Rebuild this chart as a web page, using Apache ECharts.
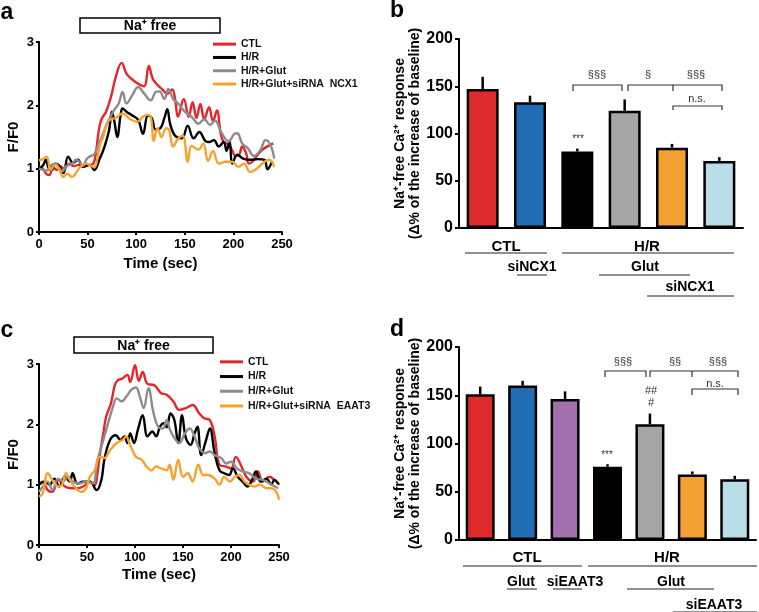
<!DOCTYPE html>
<html>
<head>
<meta charset="utf-8">
<script src="https://cdn.jsdelivr.net/npm/echarts@6/dist/echarts.min.js"></script>
<style>
html, body { margin: 0; padding: 0; background: #fff; }
#chart { width: 759px; height: 612px; }
</style>
</head>
<body>
<div id="chart"></div>
<script>
const lineNamesA = ['CTL', 'H/R', 'H/R+Glut', 'H/R+Glut+siRNA  NCX1']
const lineNamesC = ['CTL', 'H/R', 'H/R+Glut', 'H/R+Glut+siRNA  EAAT3']
const lineColors = ['#e8242b', '#000000', '#8c8c8c', '#f7a22c']

// panel a traces: [time (sec), F/F0]
const ctlA = [[0,1.02],[4,1.0],[8,0.91],[11,0.9],[14,1.03],[18,0.98],[22,1.04],[26,1.0],[31,1.08],[36,1.04],[41,1.06],[46,1.03],[52,1.06],[56,1.08],[59,1.3],[61,1.55],[64,1.77],[69,1.9],[74,2.13],[79,2.45],[85,2.67],[90,2.5],[95,2.42],[102,2.34],[108,2.3],[113,2.62],[117,2.42],[122,2.32],[127,2.25],[132,2.18],[137,2.25],[140,2.1],[143,1.82],[149,2.1],[154,1.82],[158,2.05],[162,1.8],[166,2.02],[170,1.78],[175,1.97],[179,1.75],[183,1.92],[187,1.55],[190,1.42],[195,1.38],[199,1.28],[202,1.2],[206,1.22],[209,1.35],[213,1.25],[216,1.08],[220,1.12],[225,1.22],[230,1.3],[236,1.36],[241,1.4]]
const hrA = [[0,1.0],[4,1.05],[7,1.14],[10,1.0],[13,0.98],[17,1.08],[20,1.06],[25,0.93],[30,1.19],[35,1.09],[40,1.14],[45,1.03],[52,1.06],[57,0.98],[62,1.14],[67,1.33],[72,1.6],[75,1.9],[77.5,1.75],[80.5,1.5],[84,1.85],[86,1.95],[90,1.9],[96,1.84],[102,1.77],[107,1.55],[112,1.84],[116,1.8],[120,1.62],[125,1.64],[129,1.8],[132,1.94],[135,1.7],[140,1.52],[147,1.48],[153,1.68],[159,1.48],[165,1.58],[171,1.44],[175,1.42],[180,1.45],[185,1.35],[190,1.42],[193,1.28],[196,1.44],[199,1.08],[204,1.22],[210,1.16],[217,1.14],[225,1.15],[232,1.14],[235,0.99],[240,1.12]]
const glutA = [[0,1.0],[4,0.98],[8,0.97],[12,1.05],[17,1.08],[21,1.0],[24,0.96],[28,1.04],[31,1.06],[35,1.09],[38,1.14],[42,1.1],[45,1.04],[49,1.15],[52,1.19],[57,1.23],[61,1.38],[64,1.48],[70,1.71],[77,1.92],[82,2.03],[86,2.21],[90,2.03],[96,2.16],[102,2.29],[108,2.19],[115,2.08],[120,2.21],[124,2.22],[129,2.1],[133,2.26],[138,2.1],[143,2.03],[150,1.9],[157,1.82],[164,1.71],[170,1.78],[176,1.69],[181,1.76],[188,1.56],[195,1.43],[201,1.55],[204,1.56],[209,1.4],[215,1.32],[221,1.2],[228,1.3],[233,1.45],[238,1.38],[242,1.16]]
const siA = [[0,1.13],[4,1.15],[8,1.19],[12,0.98],[17,1.06],[21,0.98],[25,0.87],[29,0.92],[34,0.87],[38,0.93],[42,1.02],[48,1.08],[53,1.05],[57,1.02],[60,1.15],[63,1.4],[66,1.5],[70,1.72],[74,1.78],[79,1.8],[86,1.87],[94,1.78],[101,1.74],[107,1.82],[111,1.85],[115,1.82],[118,1.44],[122,1.64],[126,1.5],[131,1.64],[134,1.6],[138,1.35],[143,1.47],[148,1.52],[153,1.11],[157,1.36],[164,1.3],[169,1.4],[174,1.12],[179,1.28],[185,1.08],[192,1.11],[199,1.11],[205,1.03],[211,1.08],[217,0.95],[224,1.0],[232,1.11],[237,1.14],[242,1.03]]

// panel c traces
const ctlC = [[0,1.0],[4,1.05],[9,0.91],[14,0.88],[20,1.08],[27,0.97],[34,0.94],[40,0.94],[46,0.97],[53,1.05],[58,0.99],[61,1.2],[63,1.46],[67,1.85],[70,2.13],[75,2.35],[79,2.65],[82,2.73],[87,2.76],[92,2.82],[95,2.7],[100,2.98],[104,2.72],[108,2.87],[113,2.67],[120,2.65],[127,2.52],[133,2.49],[140,2.38],[146,2.24],[153,2.27],[160,2.32],[167,2.18],[172,2.1],[178,2.07],[183,1.8],[188,1.33],[195,1.3],[200,1.27],[205,1.46],[211,1.3],[216,1.13],[223,1.05],[228,1.22],[233,1.05],[240,1.13],[245,1.08],[249,1.02]]
const hrC = [[0,1.0],[6,1.05],[11,1.0],[16,1.1],[21,0.97],[27,1.13],[32,1.05],[35,1.19],[40,1.02],[46,1.05],[53,1.05],[60,0.91],[65,1.08],[68,1.41],[74,1.74],[80,1.82],[85,1.74],[89,1.8],[92,1.69],[95,1.85],[99,1.69],[103,1.91],[108,2.15],[113,1.8],[118,1.88],[122,1.8],[126,1.96],[130,2.02],[133,1.95],[137,2.18],[141,2.07],[145,1.69],[149,2.15],[153,1.77],[158,1.66],[162,1.85],[165,1.96],[169,1.49],[174,1.74],[178,1.93],[183,1.52],[188,1.24],[193,1.19],[198,1.16],[202,1.27],[207,1.13],[212,1.05],[217,0.97],[222,1.08],[226,1.22],[231,1.05],[237,1.1],[242,1.0],[245,1.08],[250,1.0]]
const glutC = [[0,0.88],[4,0.97],[9,1.05],[14,0.91],[20,1.1],[25,1.05],[30,1.13],[35,1.05],[42,1.02],[49,1.05],[56,1.02],[61,1.41],[67,1.74],[72,2.02],[77,2.29],[81,2.43],[86,2.38],[91,2.46],[96,2.57],[101,2.61],[105,2.46],[109,2.27],[114,2.6],[119,2.21],[124,1.96],[129,1.93],[133,2.07],[136,1.93],[140,1.8],[146,1.69],[152,1.85],[157,1.93],[162,1.8],[167,1.6],[173,1.52],[178,1.55],[183,1.49],[190,1.44],[195,1.35],[200,1.38],[206,1.27],[212,1.22],[219,1.19],[226,1.1],[233,1.08],[240,1.02],[249,0.94]]
const siC = [[0,0.8],[4,0.86],[9,1.19],[15,1.05],[20,0.97],[24,1.0],[28,1.19],[32,1.08],[37,0.97],[44,0.88],[49,0.94],[53,1.13],[58,1.24],[63,1.46],[68,1.44],[74,1.57],[81,1.69],[87,1.74],[91,1.8],[94,1.69],[98,1.55],[101,1.46],[107,1.41],[112,1.3],[117,1.24],[122,1.3],[127,1.27],[133,1.24],[136,1.33],[140,1.08],[145,1.41],[150,1.13],[155,1.19],[160,1.05],[166,1.33],[171,1.16],[176,1.16],[183,1.1],[188,1.0],[193,1.13],[199,1.05],[204,1.13],[209,1.16],[214,1.05],[219,1.0],[225,0.97],[230,1.0],[237,0.94],[242,0.94],[247,0.88],[250,0.75]]

// panel b bars
const barGroupsB = ['CTL', 'siNCX1', 'H/R', 'H/R+Glut', 'H/R+Glut+siNCX1', 'H/R+siNCX1']
const barValuesB = [147, 133, 81, 124, 85, 71]
const barErrB = [13, 7, 3, 12, 4, 4]
const barColorsB = ['#de2a2b', '#206db3', '#000000', '#a6a6a6', '#f4a032', '#b9dee7']

// panel d bars
const barGroupsD = ['CTL', 'Glut', 'siEAAT3', 'H/R', 'H/R+Glut', 'H/R+Glut+siEAAT3', 'H/R+siEAAT3']
const barValuesD = [151, 160, 146, 76, 120, 68, 63]
const barErrD = [8, 5, 8, 2.5, 11, 3, 3.5]
const barColorsD = ['#de2a2b', '#206db3', '#a170ad', '#000000', '#a6a6a6', '#f4a032', '#b9dee7']

const FONT = '"Liberation Sans", Arial, sans-serif'
const barAxisName = 'Na⁺-free Ca²⁺ response\n(Δ% of the increase of baseline)'

const chart = echarts.init(document.getElementById('chart'))

const timeAxis = (gi, gap) => ({
    type: 'value', gridIndex: gi, min: 0, max: 250, interval: 50,
    name: 'Time (sec)', nameLocation: 'middle', nameGap: gap,
    nameTextStyle: { fontFamily: FONT, fontWeight: 'bold', fontSize: 15, color: '#000' },
    axisLine: { show: true, lineStyle: { color: '#000', width: 2 } },
    axisTick: { show: true, length: 3, lineStyle: { color: '#000', width: 2 } },
    axisLabel: { margin: 6, fontFamily: FONT, fontWeight: 'bold', fontSize: 13, color: '#000' },
    splitLine: { show: false }
})
const ratioAxis = gi => ({
    type: 'value', gridIndex: gi, min: 0, max: 3, interval: 1,
    name: 'F/F0', nameLocation: 'middle', nameGap: 18,
    nameTextStyle: { fontFamily: FONT, fontWeight: 'bold', fontSize: 15, color: '#000' },
    axisLine: { show: true, lineStyle: { color: '#000', width: 2 } },
    axisTick: { show: true, length: 3, lineStyle: { color: '#000', width: 2 } },
    axisLabel: { margin: 5, fontFamily: FONT, fontWeight: 'bold', fontSize: 13, color: '#000' },
    splitLine: { show: false }
})
const catAxis = (gi, cats) => ({
    type: 'category', gridIndex: gi, data: cats,
    axisLine: { show: true, lineStyle: { color: '#000', width: 2 } },
    axisTick: { show: false }, axisLabel: { show: false }
})
const responseAxis = gi => ({
    type: 'value', gridIndex: gi, min: 0, max: 200, interval: 50,
    name: barAxisName, nameLocation: 'middle', nameGap: 34,
    nameTextStyle: { fontFamily: FONT, fontWeight: 'bold', fontSize: 14, lineHeight: 15, color: '#000' },
    axisLine: { show: true, lineStyle: { color: '#000', width: 2 } },
    axisTick: { show: true, length: 4, lineStyle: { color: '#000', width: 2 } },
    axisLabel: { margin: 6, fontFamily: FONT, fontWeight: 'bold', fontSize: 16, color: '#000' },
    splitLine: { show: false }
})

const traceSeries = (names, traces, gi) => traces.map((d, i) => ({
    name: names[i], type: 'line', xAxisIndex: gi, yAxisIndex: gi,
    data: d, smooth: 0.4, showSymbol: false, symbol: 'none',
    lineStyle: { color: lineColors[i], width: 2.4 }, itemStyle: { color: lineColors[i] }
}))

const barSeries = (values, colors, gi, w) => ({
    type: 'bar', xAxisIndex: gi, yAxisIndex: gi, barWidth: w,
    data: values.map((v, i) => ({ value: v, itemStyle: { color: colors[i] } })),
    itemStyle: { borderColor: '#000', borderWidth: 2.5 }
})

const errSeries = (values, errs, gi) => ({
    type: 'custom', xAxisIndex: gi, yAxisIndex: gi,
    data: values.map((v, i) => [i, v, v + errs[i]]),
    encode: { x: 0, y: [1, 2] },
    renderItem: (params, api) => {
        const lo = api.coord([api.value(0), api.value(1)])
        const hi = api.coord([api.value(0), api.value(2)])
        return {
            type: 'line',
            shape: { x1: lo[0], y1: lo[1], x2: hi[0], y2: hi[1] },
            style: { stroke: '#000', lineWidth: 2.5 }
        }
    }
})

const legendFor = (names, left, top, lh) => ({
    data: names, orient: 'vertical', left: left, top: top,
    icon: 'rect', itemWidth: 23, itemHeight: 3, itemGap: 0,
    textStyle: { fontFamily: FONT, fontSize: 10.5, fontWeight: 'bold', color: '#111', lineHeight: lh },
    selectedMode: false
})

// annotation helpers
const txt = (s, x, y, size, weight, color) => ({
    type: 'text', silent: true,
    style: {
        text: s, x: x, y: y, font: (weight || 'normal') + ' ' + size + 'px ' + FONT,
        fill: color || '#000', align: 'center', verticalAlign: 'middle',
        textAlign: 'center', textVerticalAlign: 'middle'
    }
})
const seg = (x1, y1, x2, y2, w, color) => ({
    type: 'line', silent: true,
    shape: { x1: x1, y1: y1, x2: x2, y2: y2 },
    style: { stroke: color || '#222', lineWidth: w || 1 }
})
const bracket = (x1, x2, y, drop, mids) => {
    const out = [{
        type: 'polyline', silent: true,
        shape: { points: [[x1, y + drop], [x1, y], [x2, y], [x2, y + drop]] },
        style: { stroke: '#333', lineWidth: 1.2, fill: null }
    }]
    ;(mids || []).forEach(m => out.push(seg(m, y, m, y + drop, 1.2, '#333')))
    return out
}
const naBox = (x, y, w, h) => [
    { type: 'rect', silent: true, shape: { x: x, y: y, width: w, height: h },
      style: { fill: '#fff', stroke: '#000', lineWidth: 1.5 } },
    txt('Na⁺ free', x + w / 2, y + h / 2 + 1, 14, 'bold')
]

const graphics = [
    txt('a', 7, 13, 23, 'bold'),
    txt('b', 397, 11, 23, 'bold'),
    txt('c', 7, 331, 23, 'bold'),
    txt('d', 397, 330, 23, 'bold'),
    ...naBox(80, 18, 140, 15),
    ...naBox(74, 337, 139, 16),

    // panel b annotations
    ...bracket(573, 622, 85, 6),
    ...bracket(628, 722, 85, 6, [673]),
    ...bracket(673, 722, 106, 4),
    txt('§§§', 597, 75, 11, 'normal', '#333'),
    txt('§', 648, 75, 11, 'normal', '#333'),
    txt('§§§', 696, 75, 11, 'normal', '#333'),
    txt('n.s.', 697, 99, 11, 'normal', '#333'),
    txt('***', 578, 139, 10, 'normal', '#333'),
    txt('CTL', 506, 247, 15, 'bold'),
    seg(465, 253, 547, 253),
    txt('H/R', 647, 247, 15, 'bold'),
    seg(562, 253, 734, 253),
    txt('siNCX1', 532, 267, 14, 'bold'),
    seg(517, 275, 547, 275),
    txt('Glut', 645, 267, 14, 'bold'),
    seg(599, 275, 690, 275),
    txt('siNCX1', 690, 287, 14, 'bold'),
    seg(647, 296, 734, 296),

    // panel d annotations
    ...bracket(605, 646, 371, 6),
    ...bracket(650, 738, 371, 6, [692]),
    ...bracket(692, 738, 389, 6),
    txt('§§§', 623, 362, 11, 'normal', '#333'),
    txt('§§', 675, 362, 11, 'normal', '#333'),
    txt('§§§', 718, 362, 11, 'normal', '#333'),
    txt('n.s.', 715, 384, 11, 'normal', '#333'),
    txt('##', 651, 391, 11, 'normal', '#333'),
    txt('#', 651, 403, 11, 'normal', '#333'),
    txt('***', 607, 455, 10, 'normal', '#333'),
    txt('CTL', 527, 558, 15, 'bold'),
    seg(463, 566, 582, 566),
    txt('H/R', 667, 558, 15, 'bold'),
    seg(588, 566, 757, 566),
    txt('Glut', 521, 582, 14, 'bold'),
    seg(507, 589, 537, 589),
    txt('siEAAT3', 575, 582, 14, 'bold'),
    seg(553, 589, 582, 589),
    txt('Glut', 671, 582, 14, 'bold'),
    seg(627, 589, 714, 589),
    txt('siEAAT3', 714, 605, 14, 'bold'),
    seg(673, 612, 757, 612)
]

const option = {
    animation: false,
    backgroundColor: '#fff',
    grid: [
        { left: 39, top: 42, width: 243, height: 190, outerBoundsMode: 'none' },
        { left: 459, top: 39, width: 284, height: 189, outerBoundsMode: 'none' },
        { left: 39, top: 364, width: 240, height: 181, outerBoundsMode: 'none' },
        { left: 459, top: 347, width: 297, height: 193, outerBoundsMode: 'none' }
    ],
    xAxis: [timeAxis(0, 24), catAxis(1, barGroupsB), timeAxis(2, 22), catAxis(3, barGroupsD)],
    yAxis: [ratioAxis(0), responseAxis(1), ratioAxis(2), responseAxis(3)],
    legend: [legendFor(lineNamesA, 208, 32.5, 13.3), legendFor(lineNamesC, 215, 349.5, 14.7)],
    series: [
        ...traceSeries(lineNamesA, [ctlA, hrA, glutA, siA], 0),
        ...traceSeries(lineNamesC, [ctlC, hrC, glutC, siC], 2),
        barSeries(barValuesB, barColorsB, 1, 32),
        errSeries(barValuesB, barErrB, 1),
        barSeries(barValuesD, barColorsD, 3, 29),
        errSeries(barValuesD, barErrD, 3)
    ],
    graphic: graphics
}

chart.setOption(option)
</script>
</body>
</html>
